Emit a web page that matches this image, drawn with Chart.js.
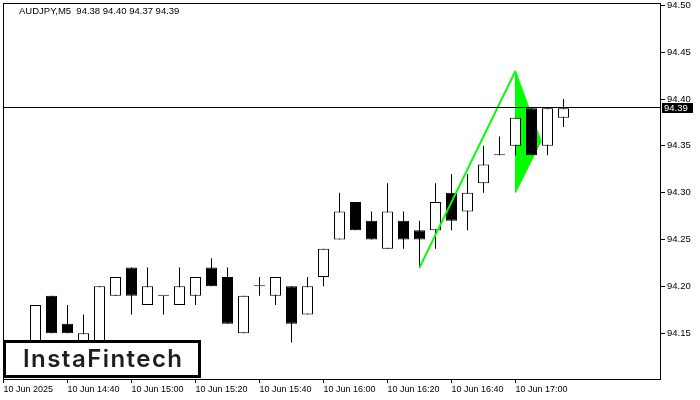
<!DOCTYPE html>
<html>
<head>
<meta charset="utf-8">
<title>AUDJPY M5</title>
<script src="https://cdn.jsdelivr.net/npm/chart.js@4.4.1/dist/chart.umd.min.js"></script>
<style>
  html, body { margin: 0; padding: 0; background: #fff; }
  #wrap { width: 700px; height: 400px; }
</style>
</head>
<body>
<div id="wrap"><canvas id="myChart" width="700" height="400"></canvas></div>
<script>
// 5 minute candles, 10 Jun 2025
const times = ['14:20', '14:25', '14:30', '14:35', '14:40', '14:45', '14:50', '14:55',
  '15:00', '15:05', '15:10', '15:15', '15:20', '15:25', '15:30', '15:35',
  '15:40', '15:45', '15:50', '15:55', '16:00', '16:05', '16:10', '16:15',
  '16:20', '16:25', '16:30', '16:35', '16:40', '16:45', '16:50', '16:55',
  '17:00', '17:05', '17:10', '17:15'];
const open  = [94.12, 94.13, 94.13, 94.19, 94.16, 94.14, 94.13, 94.19, 94.22, 94.18, 94.19, 94.18,
  94.19, 94.22, 94.21, 94.15, 94.20, 94.19, 94.20, 94.17, 94.21, 94.25, 94.29, 94.27,
  94.24, 94.27, 94.26, 94.26, 94.30, 94.28, 94.31, 94.34, 94.35, 94.39, 94.35, 94.38];
const high  = [94.14, 94.14, 94.18, 94.19, 94.18, 94.17, 94.20, 94.21, 94.22, 94.22, 94.19, 94.22,
  94.21, 94.23, 94.22, 94.19, 94.21, 94.21, 94.20, 94.21, 94.24, 94.30, 94.29, 94.28,
  94.31, 94.28, 94.27, 94.31, 94.32, 94.32, 94.35, 94.36, 94.38, 94.39, 94.39, 94.40];
const low   = [94.11, 94.11, 94.12, 94.15, 94.15, 94.13, 94.12, 94.19, 94.17, 94.18, 94.17, 94.18,
  94.18, 94.20, 94.16, 94.15, 94.19, 94.18, 94.14, 94.17, 94.20, 94.25, 94.26, 94.25,
  94.24, 94.24, 94.22, 94.24, 94.26, 94.26, 94.30, 94.34, 94.34, 94.34, 94.34, 94.37];
const close = [94.13, 94.12, 94.18, 94.15, 94.15, 94.15, 94.20, 94.21, 94.19, 94.20, 94.19, 94.20,
  94.21, 94.20, 94.16, 94.19, 94.20, 94.21, 94.16, 94.20, 94.24, 94.28, 94.26, 94.25,
  94.28, 94.25, 94.25, 94.29, 94.27, 94.30, 94.33, 94.34, 94.38, 94.34, 94.39, 94.39];

const yTicks = [94.15, 94.20, 94.25, 94.30, 94.35, 94.40, 94.45, 94.50];
const xTickPos = [0, 4, 8, 12, 16, 20, 24, 28, 32];
const xTickLabels = ['10 Jun 2025', '10 Jun 14:40', '10 Jun 15:00', '10 Jun 15:20', '10 Jun 15:40',
  '10 Jun 16:00', '10 Jun 16:20', '10 Jun 16:40', '10 Jun 17:00'];

// pennant pattern (pole + flag)
const poleX = [26, 32];
const poleY = [94.22, 94.43];
const flagX = [32, 33.6, 32, 32];
const flagY = [94.43, 94.355, 94.30, 94.43];

const last = close.length - 1;
const title = 'AUDJPY,M5  ' + [open[last], high[last], low[last], close[last]].map(v => v.toFixed(2)).join(' ');

const bodies = times.map((t, i) => ({ x: i, y: [open[i], close[i]] }));
const wicks = times.map((t, i) => ({ x: i, y: [low[i], high[i]] }));
const bodyColor = open.map((o, i) => close[i] > o ? '#ffffff' : '#000000');

const green = '#00ff00';
const font = '"Liberation Sans", Arial, sans-serif';

const decor = {
  id: 'decor',
  beforeDraw(chart) {
    const c = chart.ctx;
    c.save();
    c.fillStyle = '#fff';
    c.fillRect(0, 0, chart.width, chart.height);
    c.restore();
  },
  afterDraw(chart) {
    const c = chart.ctx;
    const a = chart.chartArea;
    c.save();

    // current price line + label
    const py = Math.round(chart.scales.y.getPixelForValue(close[last])) - 0.5;
    c.strokeStyle = '#000';
    c.lineWidth = 1;
    c.beginPath();
    c.moveTo(a.left, py);
    c.lineTo(a.right, py);
    c.stroke();
    c.fillStyle = '#000';
    c.fillRect(a.right + 1, py - 4.5, 31, 10);
    c.fillStyle = '#fff';
    c.font = '9.5px ' + font;
    c.textBaseline = 'middle';
    c.textAlign = 'left';
    c.fillText(close[last].toFixed(2), a.right + 3, py + 0.5);

    // frame
    c.strokeStyle = '#000';
    c.strokeRect(a.left + 0.5, a.top + 0.5, a.right - a.left - 1, a.bottom - a.top - 1);

    // title
    c.fillStyle = '#000';
    c.fillText(title, 19, 11);

    // logo
    c.fillStyle = '#fff';
    c.fillRect(3, 340, 198, 38);
    c.lineWidth = 3;
    c.strokeRect(4.5, 341.5, 195, 35);
    c.fillStyle = '#1e1e1e';
    c.font = '600 24px Inter, "Liberation Sans", sans-serif';
    c.textBaseline = 'alphabetic';
    const w = c.measureText('InstaFintech').width;
    if ('letterSpacing' in c) c.letterSpacing = ((159 - w) / 11) + 'px';
    c.fillText('InstaFintech', 23, 367);
    c.restore();
  }
};

const ctx = document.getElementById('myChart');

new Chart(ctx, {
  type: 'bar',
  data: {
    datasets: [
      {
        type: 'line',
        data: poleX.map((x, i) => ({ x: x, y: poleY[i] })),
        borderColor: green,
        borderWidth: 2,
        pointRadius: 0,
        fill: false,
        order: 1
      },
      {
        data: bodies,
        backgroundColor: bodyColor,
        borderColor: '#000',
        borderWidth: 1,
        borderSkipped: false,
        barThickness: 11,
        minBarLength: 1,
        grouped: false,
        inflateAmount: 0,
        order: 2
      },
      {
        data: wicks,
        backgroundColor: '#000',
        borderWidth: 0,
        barThickness: 1,
        grouped: false,
        inflateAmount: 0,
        order: 3
      },
      {
        type: 'line',
        data: flagX.map((x, i) => ({ x: x, y: flagY[i] })),
        borderColor: green,
        backgroundColor: green,
        borderWidth: 1,
        pointRadius: 0,
        fill: 'shape',
        order: 4
      }
    ]
  },
  options: {
    responsive: false,
    animation: false,
    events: [],
    layout: { padding: { left: 3, top: 3, right: 0, bottom: 0 } },
    plugins: { legend: { display: false }, tooltip: { enabled: false } },
    scales: {
      x: {
        type: 'linear',
        min: -0.03125,
        max: 41.09375,
        offset: false,
        grid: { offset: false, drawOnChartArea: false, tickLength: 3, color: '#000' },
        border: { display: false },
        afterBuildTicks: s => { s.ticks = xTickPos.map(v => ({ value: v })); },
        afterFit: s => { s.height = 20; s.paddingLeft = 0; s.paddingRight = 0; },
        ticks: {
          autoSkip: false,
          maxRotation: 0,
          align: 'start',
          padding: 1,
          color: '#000',
          font: { family: font, size: 9 },
          callback: (v, i) => xTickLabels[i]
        }
      },
      y: {
        position: 'right',
        min: 94.1,
        max: 94.5025,
        beginAtZero: false,
        grid: { drawOnChartArea: false, tickLength: 4, color: '#000' },
        border: { display: false },
        afterBuildTicks: s => { s.ticks = yTicks.map(v => ({ value: v })); },
        afterFit: s => { s.width = 39; s.paddingTop = 0; s.paddingBottom = 0; },
        ticks: {
          padding: 2,
          color: '#000',
          font: { family: font, size: 9.5 },
          callback: v => v.toFixed(2)
        }
      }
    }
  },
  plugins: [decor]
});
</script>
</body>
</html>
